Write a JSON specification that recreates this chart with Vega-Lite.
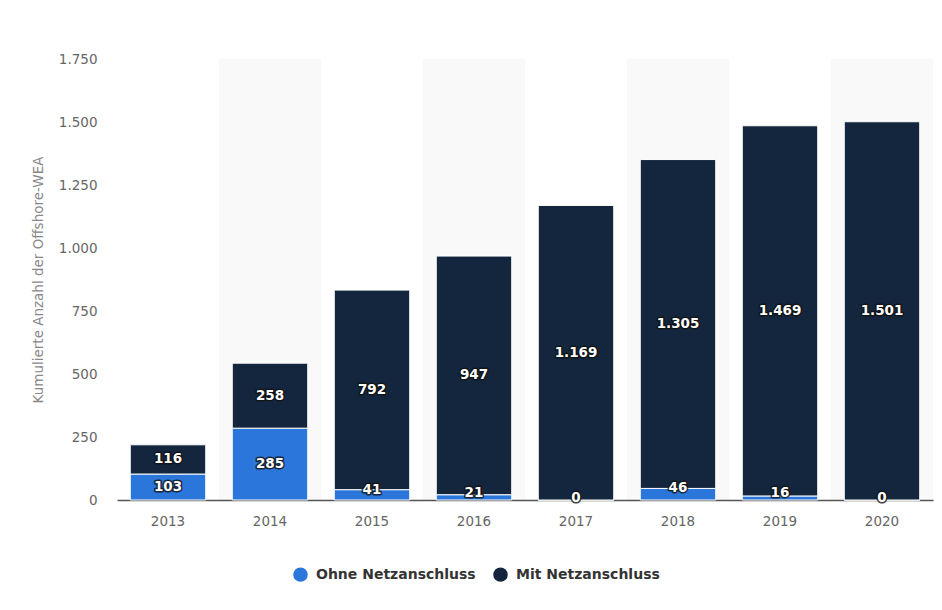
{
  "$schema": "https://vega.github.io/schema/vega-lite/v6.json",
  "width": 816,
  "height": 441,
  "autosize": {"type": "none"},
  "padding": {"left": 117, "top": 59, "right": 9, "bottom": 110},
  "background": "white",
  "config": {
    "locale": {"number": {"decimal": ",", "thousands": ".", "grouping": [3], "currency": ["", " €"]}},
    "view": {"stroke": null},
    "font": "DejaVu Sans"
  },
  "datasets": {
    "main": [
      {"year": "2013", "series": "Ohne Netzanschluss", "value": 103},
      {"year": "2014", "series": "Ohne Netzanschluss", "value": 285},
      {"year": "2015", "series": "Ohne Netzanschluss", "value": 41},
      {"year": "2016", "series": "Ohne Netzanschluss", "value": 21},
      {"year": "2017", "series": "Ohne Netzanschluss", "value": 0},
      {"year": "2018", "series": "Ohne Netzanschluss", "value": 46},
      {"year": "2019", "series": "Ohne Netzanschluss", "value": 16},
      {"year": "2020", "series": "Ohne Netzanschluss", "value": 0},
      {"year": "2013", "series": "Mit Netzanschluss", "value": 116},
      {"year": "2014", "series": "Mit Netzanschluss", "value": 258},
      {"year": "2015", "series": "Mit Netzanschluss", "value": 792},
      {"year": "2016", "series": "Mit Netzanschluss", "value": 947},
      {"year": "2017", "series": "Mit Netzanschluss", "value": 1169},
      {"year": "2018", "series": "Mit Netzanschluss", "value": 1305},
      {"year": "2019", "series": "Mit Netzanschluss", "value": 1469},
      {"year": "2020", "series": "Mit Netzanschluss", "value": 1501}
    ],
    "bands": [
      {"year": "2014"},
      {"year": "2016"},
      {"year": "2018"},
      {"year": "2020"}
    ]
  },
  "layer": [
    {
      "data": {"name": "bands"},
      "mark": {"type": "rect", "color": "#000000", "opacity": 0.022},
      "encoding": {
        "x": {
          "field": "year",
          "type": "ordinal",
          "scale": {"domain": ["2013", "2014", "2015", "2016", "2017", "2018", "2019", "2020"], "paddingInner": 0, "paddingOuter": 0},
          "axis": null
        },
        "y": {"datum": 1750, "type": "quantitative"},
        "y2": {"datum": 0}
      }
    },
    {
      "data": {"name": "main"},
      "transform": [
        {"stack": "value", "groupby": ["year"], "sort": [{"field": "series", "order": "descending"}], "as": ["v0", "v1"]},
        {"calculate": "datum.series == 'Ohne Netzanschluss' && datum.value < 60 ? (datum.value == 0 ? 8 : max(datum.v1, 26)) : (datum.v0 + datum.v1) / 2", "as": "labelPos"}
      ],
      "encoding": {
        "x": {
          "field": "year",
          "type": "ordinal",
          "scale": {"domain": ["2013", "2014", "2015", "2016", "2017", "2018", "2019", "2020"], "paddingInner": 0.26, "paddingOuter": 0.13},
          "axis": {
            "title": null,
            "labelAngle": 0,
            "ticks": false,
            "domainColor": "#555555",
            "domainWidth": 1.5,
            "labelColor": "#666666",
            "labelFontSize": 13.5,
            "labelPadding": 14
          }
        }
      },
      "layer": [
        {
          "mark": {"type": "bar", "stroke": "#ffffff", "strokeWidth": 1},
          "encoding": {
            "y": {
              "field": "v1",
              "type": "quantitative",
              "scale": {"domain": [0, 1750], "nice": false},
              "axis": {
                "title": "Kumulierte Anzahl der Offshore-WEA",
                "values": [0, 250, 500, 750, 1000, 1250, 1500, 1750],
                "format": ",d",
                "ticks": false,
                "domain": false,
                "gridColor": "#c8c8c8",
                "gridDash": [1, 2],
                "labelPadding": 20,
                "labelColor": "#666666",
                "labelFontSize": 13.5,
                "titleColor": "#888888",
                "titleFontSize": 13.5,
                "titleFontWeight": "normal",
                "titlePadding": 13
              }
            },
            "y2": {"field": "v0"},
            "color": {
              "field": "series",
              "type": "nominal",
              "scale": {"domain": ["Ohne Netzanschluss", "Mit Netzanschluss"], "range": ["#2a76da", "#13263d"]},
              "legend": {
                "orient": "none",
                "legendX": 176,
                "legendY": 508,
                "direction": "horizontal",
                "title": null,
                "symbolType": "circle",
                "symbolSize": 210,
                "symbolStrokeWidth": 0,
                "labelFontSize": 14,
                "labelFontWeight": "bold",
                "labelColor": "#333333",
                "columnPadding": 17,
                "labelOffset": 8,
                "padding": 0
              }
            }
          }
        },
        {
          "mark": {"type": "text", "fontWeight": "bold", "fontSize": 13.5, "baseline": "middle", "align": "center", "fill": "#111111", "stroke": "#111111", "strokeWidth": 3, "strokeOpacity": 0.8, "strokeJoin": "round"},
          "encoding": {
            "y": {"field": "labelPos", "type": "quantitative"},
            "text": {"field": "value", "type": "quantitative", "format": ",d"}
          }
        },
        {
          "mark": {"type": "text", "fontWeight": "bold", "fontSize": 13.5, "baseline": "middle", "align": "center", "fill": "#ffffff"},
          "encoding": {
            "y": {"field": "labelPos", "type": "quantitative"},
            "text": {"field": "value", "type": "quantitative", "format": ",d"}
          }
        }
      ]
    }
  ],
  "resolve": {"scale": {"x": "independent"}}
}
